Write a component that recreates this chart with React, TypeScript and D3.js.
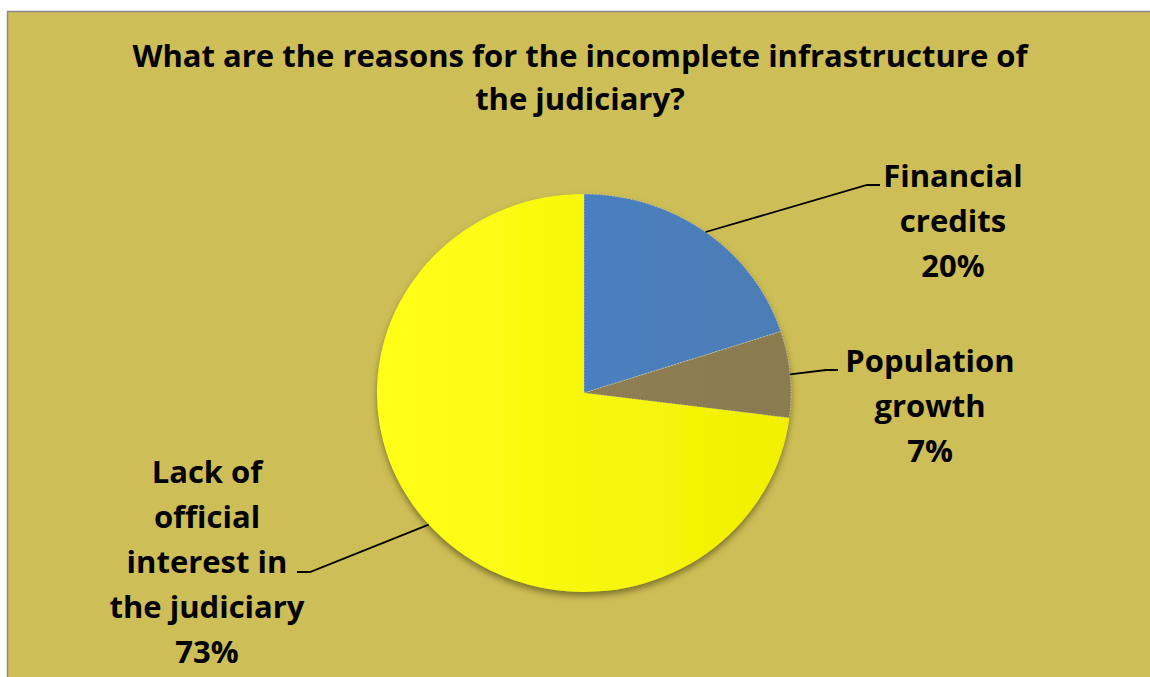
import React from "react";
import * as d3 from "d3";

const categories = ["Financial credits", "Population growth", "Lack of official interest in the judiciary"];
const values = [20, 7, 73];
const labelLines = [["Financial", "credits", "20%"], ["Population", "growth", "7%"], ["Lack of", "official", "interest in", "the judiciary", "73%"]];
const titleLines = ["What are the reasons for the incomplete infrastructure of", "the judiciary?"];

const W = 1150, H = 677;
const cx = 584, cy = 393, ry = 199, rx = 207;
const FONT = "'Open Sans', sans-serif";
const FS = 31;

// label layout: text center x, first baseline, elbow point, line end
const labelLayout = [
  { x: 953, y: 187, elbow: [867, 185], end: [880, 185] },
  { x: 930, y: 372, elbow: [826, 370], end: [838, 370] },
  { x: 207, y: 483, elbow: [310, 572], end: [297, 572] },
];
const colors = ["url(#gBlue)", "url(#gBrown)", "url(#gYellow)"];

export default function App() {
  const pie = d3.pie<number>().sort(null).startAngle(0).endAngle(2 * Math.PI);
  const arcs = pie(values);
  const arc = d3.arc<d3.PieArcDatum<number>>().innerRadius(0).outerRadius(ry);
  const sx = rx / ry;
  return (
    <svg width={W} height={H} style={{ position: "absolute", left: 0, top: 0 }}>
      <defs>
        <linearGradient id="gYellow" x1="0" x2="1" y1="0" y2="0">
          <stop offset="0" stopColor="#ffff1a" />
          <stop offset="1" stopColor="#f0f000" />
        </linearGradient>
        <linearGradient id="gBlue" x1="0" x2="1" y1="0" y2="0">
          <stop offset="0" stopColor="#4a7fc0" />
          <stop offset="1" stopColor="#4c7db5" />
        </linearGradient>
        <linearGradient id="gBrown" x1="0" x2="1" y1="0" y2="0">
          <stop offset="0" stopColor="#8f7e52" />
          <stop offset="1" stopColor="#8a7b50" />
        </linearGradient>
        <filter id="shadow" x="-10%" y="-10%" width="120%" height="125%">
          <feGaussianBlur in="SourceAlpha" stdDeviation="3" />
          <feOffset dx="0" dy="4" result="b" />
          <feFlood floodColor="#6b6020" floodOpacity="0.8" />
          <feComposite in2="b" operator="in" result="s" />
          <feMerge>
            <feMergeNode in="s" />
            <feMergeNode in="SourceGraphic" />
          </feMerge>
        </filter>
      </defs>
      <rect x={7.5} y={11.5} width={W + 10} height={H + 10} fill="#cdbe57" stroke="#8a8a8a" strokeWidth={1.5} />
      <g fontFamily={FONT} fontWeight="bold" fill="#000" textAnchor="middle">
        {titleLines.map((t, i) => (
          <text key={i} x={580} y={67 + i * 43} fontSize={FS}>{t}</text>
        ))}
      </g>
      <g transform={`translate(${cx},${cy}) scale(${sx},1)`} filter="url(#shadow)">
        {arcs.map((a, i) => (
          <path key={categories[i]} d={arc(a) || ""} fill={colors[i]} stroke={i === 2 ? "none" : "#c9cbb0"} strokeWidth={0.8} strokeDasharray={i === 2 ? undefined : "1.5 1.5"} />
        ))}
      </g>
      {arcs.map((a, i) => {
        const m = (a.startAngle + a.endAngle) / 2;
        const px = cx + rx * Math.sin(m);
        const py = cy - ry * Math.cos(m);
        const L = labelLayout[i];
        return (
          <g key={"l" + i}>
            <polyline points={`${px},${py} ${L.elbow[0]},${L.elbow[1]} ${L.end[0]},${L.end[1]}`} fill="none" stroke="#000" strokeWidth={1.8} />
            {labelLines[i].map((t, j) => (
              <text key={j} x={L.x} y={L.y + j * 45} fontFamily={FONT} fontWeight="bold" fontSize={FS} textAnchor="middle" fill="#000">{t}</text>
            ))}
          </g>
        );
      })}
    </svg>
  );
}
